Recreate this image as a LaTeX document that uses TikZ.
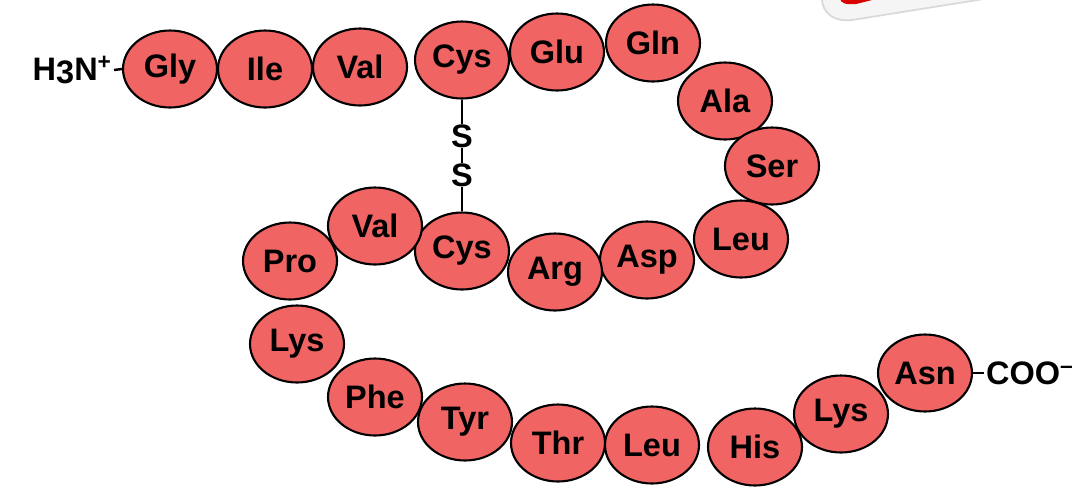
\documentclass[tikz,border=0pt]{standalone}
\usepackage{fontspec}
\setmainfont{Liberation Sans}
\usetikzlibrary{shapes.geometric}
\definecolor{aminored}{RGB}{240,100,100}
\begin{document}
\begin{tikzpicture}[x=0.02cm,y=-0.02cm,
  residue/.style={ellipse,draw=black,line width=1.2pt,fill=aminored,
    minimum width=1.88cm,minimum height=1.54cm,inner sep=0pt,
    font=\fontsize{18.5}{20}\selectfont\bfseries},
  label/.style={inner sep=1pt,font=\fontsize{18.5}{20}\selectfont\bfseries},
  bond/.style={line width=1.4pt}]
  \useasboundingbox (0,0) rectangle (1073,488);
  % stray fragment at the top edge
  \filldraw[fill=gray!8,draw=gray!30,line width=1pt]
    (822,-2) .. controls (822,14) and (835,22) .. (852,20) -- (990,-2) -- cycle;
  \fill[red!85!black] (840,-2) .. controls (840,3) and (846,5) .. (856,4) -- (880,-2) -- cycle;
  % first strand
  \node[residue] (gly) at (170,69) {Gly};
  \node[residue] (ile) at (265,69) {Ile};
  \node[residue] (val) at (360,67) {Val};
  \node[residue] (cys) at (462,60) {Cys};
  \node[residue] (glu) at (557,52) {Glu};
  \node[residue] (gln) at (653,43) {Gln};
  \node[residue] (ala) at (725,101) {Ala};
  \node[residue] (ser) at (772,166) {Ser};
  \node[residue] (leu) at (741,239) {Leu};
  \node[residue] (asp) at (647,260) {Asp};
  \node[residue] (arg) at (555,272) {Arg};
  \node[residue] (cysb) at (462,251) {Cys};
  \node[residue] (valb) at (375,226) {Val};
  \node[residue] (pro) at (290,261) {Pro};
  \node[residue] (lys) at (297,344) {Lys};
  \node[residue] (phe) at (375,397) {Phe};
  \node[residue] (tyr) at (465,422) {Tyr};
  \node[residue] (thr) at (558,443) {Thr};
  \node[residue] (leub) at (652,445) {Leu};
  \node[residue] (his) at (755,447) {His};
  \node[residue] (lysb) at (841,414) {Lys};
  \node[residue] (asn) at (925,373) {Asn};
  % ends of the chain
  \node[label,anchor=east] (nterm) at (114,70) {H\raisebox{-2pt}{3}N\textsuperscript{+}};
  \node[label,anchor=west] (cterm) at (984,373) {COO\textsuperscript{--}};
  \draw[bond] (nterm.east) -- (gly.west);
  \draw[bond] (asn.east) -- (cterm.west);
  % disulfide bridge
  \node[label,inner sep=0pt] (sa) at (462,136) {S};
  \node[label,inner sep=0pt] (sb) at (462,175) {S};
  \draw[bond] (cys) -- (sa);
  \draw[bond] (sa) -- (sb);
  \draw[bond] (sb) -- (cysb);
\end{tikzpicture}
\end{document}
